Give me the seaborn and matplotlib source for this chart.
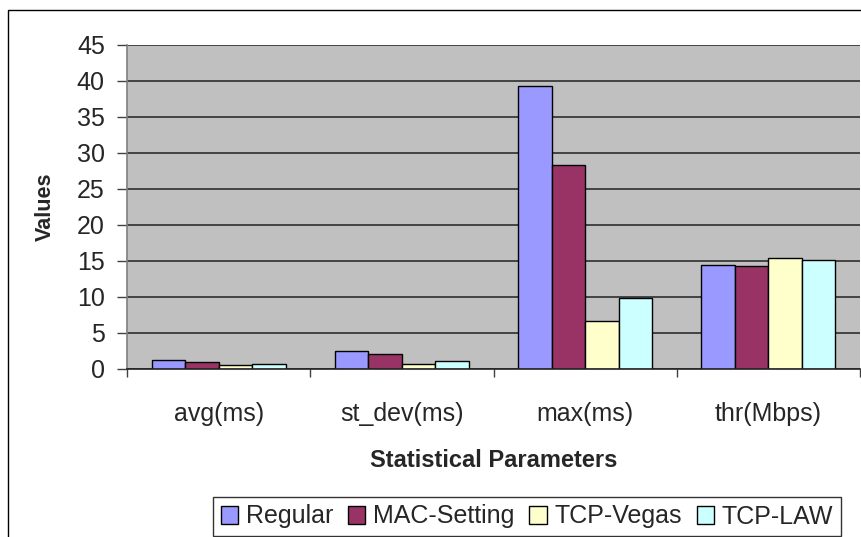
import matplotlib
matplotlib.use("Agg")
import matplotlib.pyplot as plt
import seaborn as sns
import pandas as pd
from matplotlib.patches import Rectangle

parameters = ["avg(ms)", "st_dev(ms)", "max(ms)", "thr(Mbps)"]
series_names = ["Regular", "MAC-Setting", "TCP-Vegas", "TCP-LAW"]
regular = [1.2, 2.5, 39.3, 14.5]
mac_setting = [1.0, 2.1, 28.3, 14.3]
tcp_vegas = [0.5, 0.7, 6.7, 15.4]
tcp_law = [0.7, 1.1, 9.9, 15.2]
colors = ["#9999FF", "#993366", "#FFFFCC", "#CCFFFF"]

rows = []
for name, vals in zip(series_names, [regular, mac_setting, tcp_vegas, tcp_law]):
    for p, v in zip(parameters, vals):
        rows.append({"Parameter": p, "Series": name, "Value": v})
df = pd.DataFrame(rows)

sns.set_theme(style="white")
plt.rcParams["font.family"] = ["Liberation Sans", "DejaVu Sans"]

fig = plt.figure(figsize=(8.61, 5.37), dpi=100)
ax = fig.add_axes([127 / 861, 1 - 369 / 537, (860 - 127) / 861, (369 - 45) / 537])
ax.set_facecolor("#C0C0C0")

sns.barplot(data=df, x="Parameter", y="Value", hue="Series", order=parameters,
            hue_order=series_names, palette=colors, saturation=1, width=0.73,
            edgecolor="black", linewidth=1.0, ax=ax, legend=True)

ax.set_ylim(0, 45)
ax.set_xlim(-0.5, 3.5)
ax.set_yticks(range(0, 46, 5))
ax.yaxis.grid(True, color="#222222", linewidth=1.1)
ax.set_axisbelow(True)

for s in ["top", "right"]:
    ax.spines[s].set_visible(False)
ax.spines["left"].set_color("#808080")
ax.spines["left"].set_linewidth(1.2)
ax.spines["bottom"].set_color("#222222")
ax.spines["bottom"].set_linewidth(1.2)

ax.tick_params(axis="y", which="major", direction="out", length=7, width=1,
               color="#404040", labelsize=18, pad=9, left=True)
ax.set_xticks(range(len(parameters)))
ax.set_xticklabels(parameters)
ax.tick_params(axis="x", which="major", length=0, labelsize=18, pad=24)
ax.set_xticks([-0.5, 0.5, 1.5, 2.5, 3.5], minor=True)
ax.tick_params(axis="x", which="minor", direction="out", length=6, width=1,
               color="#404040", bottom=True)

ax.set_xlabel("Statistical Parameters", fontsize=17, fontweight="bold", labelpad=16)
ax.set_ylabel("Values", fontsize=15.5, fontweight="bold", labelpad=15)

handles, labels = ax.get_legend_handles_labels()
ax.get_legend().remove()
leg = fig.legend(handles, labels, ncol=4, loc="upper left",
                 bbox_to_anchor=(213 / 861, 1 - 497 / 537), frameon=True,
                 fancybox=False, edgecolor="black", fontsize=18,
                 handlelength=0.7, handleheight=0.7, handletextpad=0.3,
                 columnspacing=0.6, borderpad=0.3, borderaxespad=0)
leg.get_frame().set_linewidth(1.0)

# outer chart border
fig.patches.append(Rectangle((8 / 861, -0.05), 1.0, 1 - 10 / 537 + 0.05,
                             transform=fig.transFigure, fill=False,
                             edgecolor="black", linewidth=1.0))

fig.savefig("out.png", dpi=100)
